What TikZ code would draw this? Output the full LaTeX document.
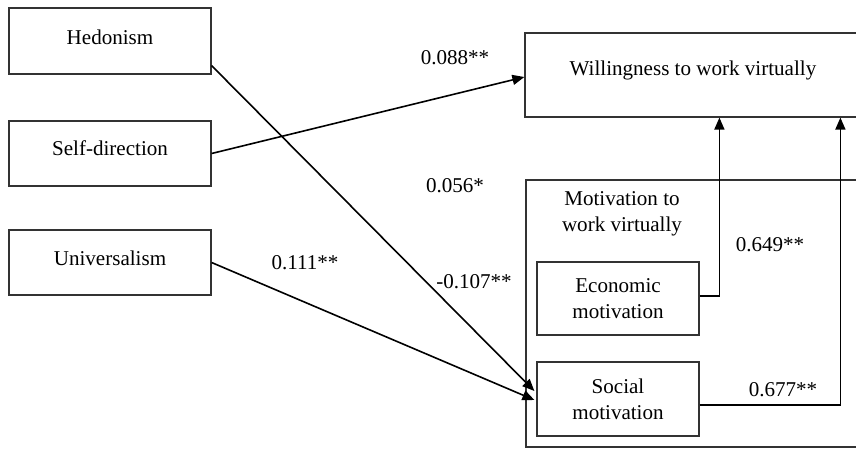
\documentclass[tikz,border=0pt]{standalone}
\usepackage{fontspec}
\setmainfont{Liberation Serif}
\usetikzlibrary{arrows.meta,calc}
\begin{document}
\begin{tikzpicture}[x=0.75pt,y=-0.75pt,
  box/.style={draw=black!80,line width=0.9pt,rectangle,inner sep=0pt},
  txt/.style={font=\fontsize{15.8}{19.5}\selectfont,align=center,inner sep=0pt},
  coef/.style={font=\fontsize{15.8}{19.5}\selectfont,inner sep=0pt},
  arr/.style={draw=black,line width=1.2pt,-{Triangle[length=9pt,width=7.5pt]}}]
\useasboundingbox (0,0) rectangle (856,451);
% left boxes
\node[box,minimum width=151.5pt,minimum height=49.5pt] (hed) at (110,41) {};
\node[txt] (hedt) at (110,37) {Hedonism};
\node[box,minimum width=151.5pt,minimum height=48.75pt] (self) at (110,153.5) {};
\node[txt] (selft) at (110,148) {Self-direction};
\node[box,minimum width=151.5pt,minimum height=48.75pt] (univ) at (110,262.5) {};
\node[txt] (univt) at (110,258) {Universalism};
% right boxes
\node[box,minimum width=258.75pt,minimum height=63pt] (will) at (697.5,75) {};
\node[txt] (willt) at (693,70) {Willingness to work virtually};
\node[box,minimum width=258pt,minimum height=200.25pt] (mot) at (698,313.5) {};
\node[txt] (mott) at (622,213.5) {Motivation to\\work virtually};
\node[box,minimum width=121.5pt,minimum height=54.75pt,txt] (econ) at (618,298.5) {Economic\\motivation};
\node[box,minimum width=121.5pt,minimum height=55.5pt,txt] (soc) at (618,399) {Social\\motivation};
% connectors
\draw[arr] ($(hed.south east)+(0,-9)$) -- ($(soc.west)+(-2,-8)$);
\draw[arr] (self.east) -- ($(will.west)+(0,2)$);
\draw[arr] (univ.east) -- ($(soc.west)+(-2,1)$);
\draw[arr] ($(econ.east)+(0,-2.5)$) -| ($(will.south west)+(195,0)$);
\draw[arr] ($(soc.east)+(0,6)$) -| ($(will.south west)+(316,0)$);
% coefficients
\node[coef] (c1) at (455,58) {0.088**};
\node[coef] (c2) at (455,186) {0.056*};
\node[coef] (c3) at (305,263) {0.111**};
\node[coef] (c4) at (474,282) {-0.107**};
\node[coef] (c5) at (770,245) {0.649**};
\node[coef] (c6) at (783,390) {0.677**};
\end{tikzpicture}
\end{document}
